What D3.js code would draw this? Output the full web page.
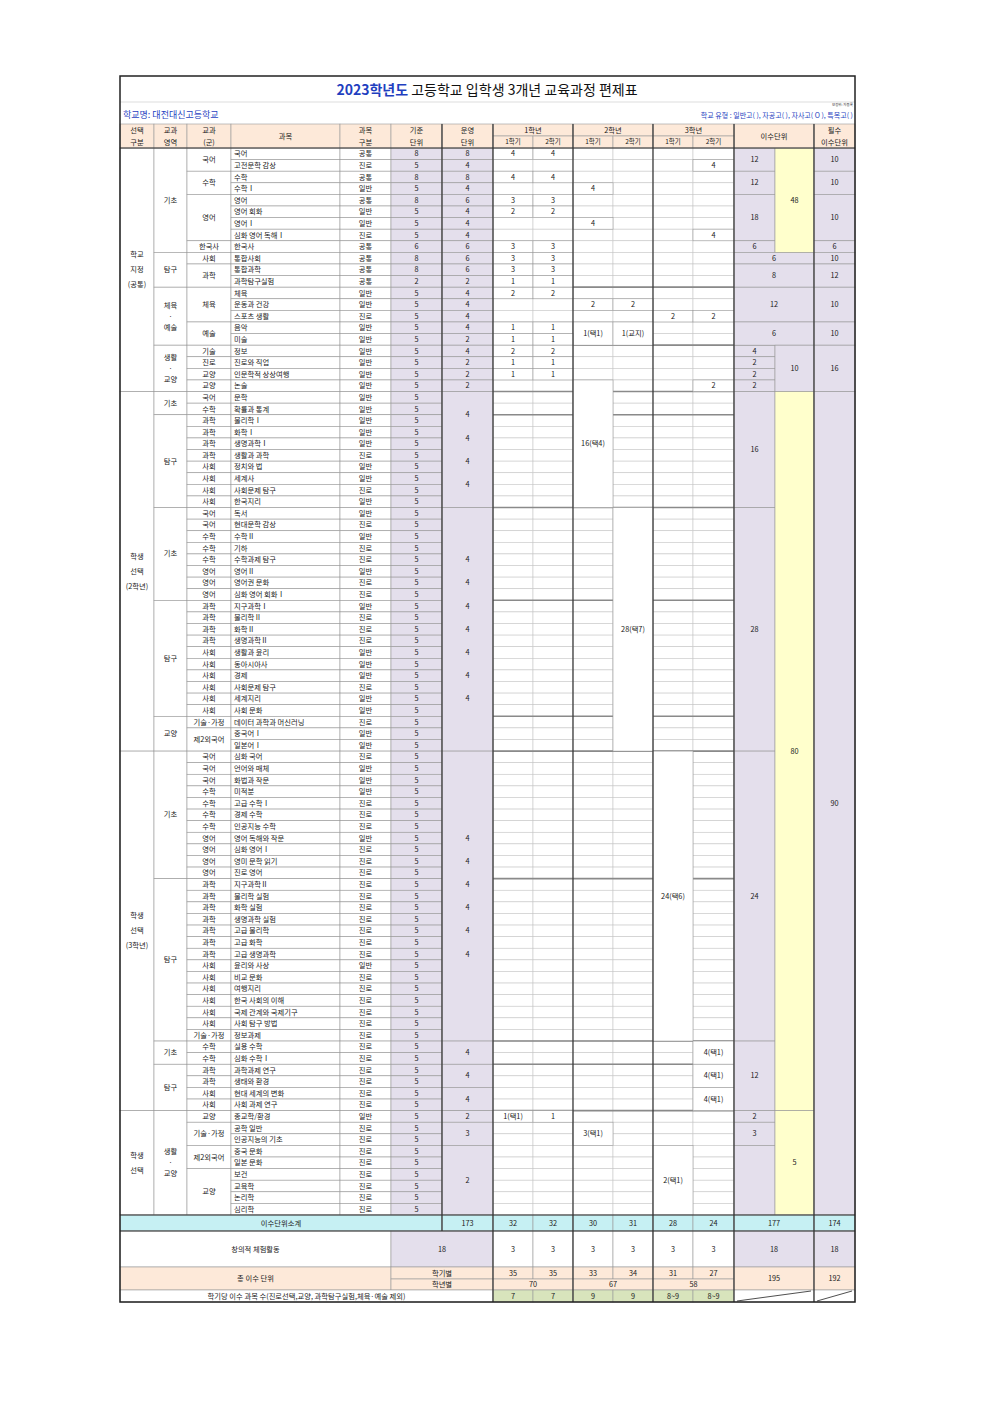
<!DOCTYPE html>
<html><head><meta charset="utf-8">
<script src="https://cdn.jsdelivr.net/npm/d3@7"></script>
<style>body{margin:0;background:#fff}svg text{font-family:"Noto Sans CJK KR","Noto Sans",sans-serif}</style>
</head><body>
<svg id="c" width="1000" height="1417"></svg>
<script>
const subjects=["국어","고전문학 감상","수학","수학Ⅰ","영어","영어 회화","영어Ⅰ","심화 영어 독해Ⅰ","한국사","통합사회","통합과학","과학탐구실험","체육","운동과 건강","스포츠 생활","음악","미술","정보","진로와 직업","인문학적 상상여행","논술",
"문학","확률과 통계","물리학Ⅰ","화학Ⅰ","생명과학Ⅰ","생활과 과학","정치와 법","세계사","사회문제 탐구","한국지리",
"독서","현대문학 감상","수학Ⅱ","기하","수학과제 탐구","영어Ⅱ","영어권 문화","심화 영어 회화Ⅰ","지구과학Ⅰ","물리학Ⅱ","화학Ⅱ","생명과학Ⅱ","생활과 윤리","동아시아사","경제","사회문제 탐구","세계지리","사회 문화","데이터 과학과 머신러닝","중국어Ⅰ","일본어Ⅰ",
"심화 국어","언어와 매체","화법과 작문","미적분","고급 수학Ⅰ","경제 수학","인공지능 수학","영어 독해와 작문","심화 영어Ⅰ","영미 문학 읽기","진로 영어",
"지구과학Ⅱ","물리학 실험","화학 실험","생명과학 실험","고급 물리학","고급 화학","고급 생명과학","윤리와 사상","비교 문화","여행지리","한국 사회의 이해","국제 관계와 국제기구","사회 탐구 방법","정보과제",
"실용 수학","심화 수학Ⅰ","과학과제 연구","생태와 환경","현대 세계의 변화","사회 과제 연구",
"종교학/환경","공학 일반","인공지능의 기초","중국 문화","일본 문화","보건","교육학","논리학","심리학"];
const subjectTypes=["공통","진로","공통","일반","공통","일반","일반","진로","공통","공통","공통","공통","일반","일반","진로","일반","일반","일반","일반","일반","일반",
"일반","일반","일반","일반","일반","진로","일반","일반","진로","일반",
"일반","진로","일반","진로","진로","일반","진로","진로","일반","진로","진로","진로","일반","일반","일반","진로","일반","일반","진로","일반","일반",
"진로","일반","일반","일반","진로","진로","진로","일반","진로","진로","진로",
"진로","진로","진로","진로","진로","진로","진로","일반","진로","진로","진로","진로","진로","진로",
"진로","진로","진로","진로","진로","진로",
"일반","진로","진로","진로","진로","진로","진로","진로","진로"];
const baseUnits=[8,5,8,5,8,5,5,5,6,8,8,2].concat(Array(80).fill(5));
const sectionCells=[[1,21,"학교|지정|(공통)"],[22,52,"학생|선택|(2학년)"],[53,83,"학생|선택|(3학년)"],[84,92,"학생|선택"]];
const areaCells=[[1,9,"기초"],[10,12,"탐구"],[13,17,"체육|·|예술"],[18,21,"생활|·|교양"],[22,23,"기초"],[24,31,"탐구"],[32,39,"기초"],[40,49,"탐구"],[50,52,"교양"],[53,63,"기초"],[64,77,"탐구"],[78,79,"기초"],[80,83,"탐구"],[84,92,"생활|·|교양"]];
const gunCells=[[1,2,"국어"],[3,4,"수학"],[5,8,"영어"],[9,9,"한국사"],[10,10,"사회"],[11,12,"과학"],[13,15,"체육"],[16,17,"예술"],
[18,18,"기술"],[19,19,"진로"],[20,20,"교양"],[21,21,"교양"],[22,22,"국어"],[23,23,"수학"],[24,24,"과학"],[25,25,"과학"],[26,26,"과학"],[27,27,"과학"],[28,28,"사회"],[29,29,"사회"],[30,30,"사회"],[31,31,"사회"],
[32,32,"국어"],[33,33,"국어"],[34,34,"수학"],[35,35,"수학"],[36,36,"수학"],[37,37,"영어"],[38,38,"영어"],[39,39,"영어"],[40,40,"과학"],[41,41,"과학"],[42,42,"과학"],[43,43,"과학"],[44,44,"사회"],[45,45,"사회"],[46,46,"사회"],[47,47,"사회"],[48,48,"사회"],[49,49,"사회"],[50,50,"기술·가정"],[51,52,"제2외국어"],
[53,53,"국어"],[54,54,"국어"],[55,55,"국어"],[56,56,"수학"],[57,57,"수학"],[58,58,"수학"],[59,59,"수학"],[60,60,"영어"],[61,61,"영어"],[62,62,"영어"],[63,63,"영어"],
[64,64,"과학"],[65,65,"과학"],[66,66,"과학"],[67,67,"과학"],[68,68,"과학"],[69,69,"과학"],[70,70,"과학"],[71,71,"사회"],[72,72,"사회"],[73,73,"사회"],[74,74,"사회"],[75,75,"사회"],[76,76,"사회"],[77,77,"기술·가정"],
[78,78,"수학"],[79,79,"수학"],[80,80,"과학"],[81,81,"과학"],[82,82,"사회"],[83,83,"사회"],[84,84,"교양"],[85,86,"기술·가정"],[87,88,"제2외국어"],[89,92,"교양"]];
const opUnits=[8,4,8,4,6,4,4,4,6,6,6,2,4,4,4,4,2,4,2,2,2];
const opBlocks=[[22,31,""],[32,52,""],[53,77,""],[78,79,"4"],[80,81,"4"],[82,83,"4"],[84,84,"2"],[85,86,"3"],[87,92,"2"]];
const opMarks=[[23,"4"],[25,"4"],[27,"4"],[29,"4"],[35.5,"4"],[37.5,"4"],[39.5,"4"],[41.5,"4"],[43.5,"4"],[45.5,"4"],[47.5,"4"],[59.5,"4"],[61.5,"4"],[63.5,"4"],[65.5,"4"],[67.5,"4"],[69.5,"4"]];
const semCells=[[0,1,1,"4"],[1,1,1,"4"],[5,2,2,"4"],[0,3,3,"4"],[1,3,3,"4"],[2,4,4,"4"],[0,5,5,"3"],[1,5,5,"3"],[0,6,6,"2"],[1,6,6,"2"],[2,7,7,"4"],[5,8,8,"4"],
[0,9,9,"3"],[1,9,9,"3"],[0,10,10,"3"],[1,10,10,"3"],[0,11,11,"3"],[1,11,11,"3"],[0,12,12,"1"],[1,12,12,"1"],[0,13,13,"2"],[1,13,13,"2"],[2,14,14,"2"],[3,14,14,"2"],[4,15,15,"2"],[5,15,15,"2"],
[0,16,16,"1"],[1,16,16,"1"],[2,16,17,"1(택1)"],[3,16,17,"1(교지)"],[0,17,17,"1"],[1,17,17,"1"],[0,18,18,"2"],[1,18,18,"2"],[0,19,19,"1"],[1,19,19,"1"],[0,20,20,"1"],[1,20,20,"1"],[5,21,21,"2"],
[2,21,31,"16(택4)"],[3,32,52,"28(택7)"],[4,53,77,"24(택6)"],[5,78,79,"4(택1)"],[5,80,81,"4(택1)"],[5,82,83,"4(택1)"],[0,84,84,"1(택1)"],[1,84,84,"1"],[2,85,86,"3(택1)"],[4,87,92,"2(택1)"]];
const creditA=[[1,2,"12"],[3,4,"12"],[5,8,"18"],[9,9,"6"],[18,18,"4"],[19,19,"2"],[20,20,"2"],[21,21,"2"],[22,31,"16"],[32,52,"28"],[53,77,"24"],[78,83,"12"],[84,84,"2"],[85,86,"3"],[87,92,""]];
const creditAB=[[10,10,"6"],[11,12,"8"],[13,15,"12"],[16,17,"6"]];
const creditB=[[1,9,"48","y"],[18,21,"10","l"],[22,83,"80","y"],[84,92,"5","y"]];
const requiredCells=[[1,2,"10"],[3,4,"10"],[5,8,"10"],[9,9,"6"],[10,10,"10"],[11,12,"12"],[13,15,"10"],[16,17,"10"],[18,21,"16"],[22,92,"90"]];
const subtotal=["173","32","32","30","31","28","24","177","174"];
const creative=["18","3","3","3","3","3","3","18","18"];
const perSem=["35","35","33","34","31","27"];
const perYear=["70","67","58"];
const totals=["195","192"];
const courseCount=["7","7","9","9","8~9","8~9"];

const svg=d3.select("#c");
const X=[120,154,187,231,340,391,442,493,533,573,613,653,693,734,775,814,855];
const y=d3.scaleLinear().domain([0,92]).range([148,1215]);
const LAV="#e4dfec",YEL="#ffffcc",PEACH="#fde9d9",CYAN="#c6f0f3",GREEN="#d8e4bc";
const g=svg.append("g");
function cell(c0,c1,y0,y1,text,fill,opt={}){
  g.append("rect").attr("x",X[c0]).attr("y",y0).attr("width",X[c1+1]-X[c0]).attr("height",y1-y0)
   .attr("fill",fill||"#fff").attr("stroke",opt.stroke||"#9a9a9a").attr("stroke-width",0.6);
  if(text!==undefined&&text!==""){
    const lines=String(text).split("|");const fs=opt.fs||7.3;const lh=opt.lh||fs*1.5;
    const cx=opt.left?X[c0]+3:(X[c0]+X[c1+1])/2;const cy=(y0+y1)/2;
    lines.forEach((t,i)=>g.append("text").attr("x",cx).attr("y",cy+(i-(lines.length-1)/2)*lh)
      .attr("dy","0.35em").attr("text-anchor",opt.left?"start":"middle").attr("font-size",fs).attr("fill","#222").text(t));
  }
}
function rc(c0,c1,r0,r1,text,fill,opt){cell(c0,c1,y(r0-1),y(r1),text,fill,opt);}
for(let r=1;r<=92;r++){for(let c=0;c<16;c++){rc(c,c,r,r,undefined,(c===5||c===6||c===13||c===15)?LAV:(c===14?YEL:"#fff"),{stroke:"#c8c8c8"});}}
// thick horizontal lines (drawn before merged cells so merged cells hide them)
const thick=[[12,1],[17,1],[21,0],[23,1],[31,1],[39,1],[49,1],[52,0],[63,1],[77,1],[79,1],[83,0]];
thick.forEach(d=>g.append("line").attr("x1",X[d[1]]).attr("x2",855).attr("y1",y(d[0])).attr("y2",y(d[0])).attr("stroke","#8a8a8a").attr("stroke-width",1.6));
sectionCells.forEach(d=>rc(0,0,d[0],d[1],d[2],"#fff",{lh:15}));
areaCells.forEach(d=>rc(1,1,d[0],d[1],d[2],"#fff",{lh:11}));
gunCells.forEach(d=>rc(2,2,d[0],d[1],d[2],"#fff"));
subjects.forEach((s,i)=>{rc(3,3,i+1,i+1,s,"#fff",{left:true});rc(4,4,i+1,i+1,subjectTypes[i],"#fff");rc(5,5,i+1,i+1,baseUnits[i],LAV);});
opUnits.forEach((v,i)=>rc(6,6,i+1,i+1,v,LAV));
opBlocks.forEach(d=>rc(6,6,d[0],d[1],d[2],LAV));
opMarks.forEach(d=>g.append("text").attr("x",(X[6]+X[7])/2).attr("y",y(d[0])).attr("dy","0.35em").attr("text-anchor","middle").attr("font-size",7.3).attr("fill","#222").text(d[1]));
semCells.forEach(d=>rc(7+d[0],7+d[0],d[1],d[2],d[3],"#fff"));
creditA.forEach(d=>rc(13,13,d[0],d[1],d[2],LAV));
creditAB.forEach(d=>rc(13,14,d[0],d[1],d[2],LAV));
creditB.forEach(d=>rc(14,14,d[0],d[1],d[2],d[3]==="y"?YEL:LAV));
requiredCells.forEach(d=>rc(15,15,d[0],d[1],d[2],LAV));
// redraw section-level thick lines across the rows only where cells end
[[21,0,13],[52,0,13],[83,0,13]].forEach(d=>{});
// header
const H0=124,H1=136,H2=148;
[[0,0,"선택|구분"],[1,1,"교과|영역"],[2,2,"교과|(군)"],[3,3,"과목"],[4,4,"과목|구분"],[5,5,"기준|단위"],[6,6,"운영|단위"],[13,14,"이수단위"],[15,15,"필수|이수단위"]]
 .forEach(d=>cell(d[0],d[1],H0,H2,d[2],PEACH,{lh:12}));
["1학년","2학년","3학년"].forEach((t,i)=>{cell(7+2*i,8+2*i,H0,H1,t,PEACH);cell(7+2*i,7+2*i,H1,H2,"1학기",PEACH,{fs:6.5});cell(8+2*i,8+2*i,H1,H2,"2학기",PEACH,{fs:6.5});});
// footer
const F0=1215,F1=1231,F2=1267,F3=1279,F4=1290,F5=1302;
cell(0,5,F0,F1,"이수단위소계",CYAN);
subtotal.forEach((v,i)=>{if(i===0)cell(6,6,F0,F1,v,CYAN);else if(i<7)cell(6+i,6+i,F0,F1,v,CYAN);else if(i===7)cell(13,14,F0,F1,v,CYAN);else cell(15,15,F0,F1,v,CYAN);});
cell(0,4,F1,F2,"창의적 체험활동","#fff");
creative.forEach((v,i)=>{if(i===0)cell(5,6,F1,F2,v,LAV);else if(i<7)cell(6+i,6+i,F1,F2,v,"#fff");else if(i===7)cell(13,14,F1,F2,v,LAV);else cell(15,15,F1,F2,v,LAV);});
cell(0,4,F2,F4,"총 이수 단위",PEACH);
cell(5,6,F2,F3,"학기별",PEACH);cell(5,6,F3,F4,"학년별",PEACH);
perSem.forEach((v,i)=>cell(7+i,7+i,F2,F3,v,PEACH));
perYear.forEach((v,i)=>cell(7+2*i,8+2*i,F3,F4,v,PEACH));
cell(13,14,F2,F4,totals[0],PEACH);cell(15,15,F2,F4,totals[1],PEACH);
cell(0,6,F4,F5,"학기당 이수 과목 수(진로선택,교양, 과학탐구실험,체육·예술 제외)","#fff");
courseCount.forEach((v,i)=>cell(7+i,7+i,F4,F5,v,GREEN));
cell(13,14,F4,F5,"","#fff");cell(15,15,F4,F5,"","#fff");
[[13,14],[15,15]].forEach(d=>{g.append("line").attr("x1",X[d[0]]+3).attr("y1",F5-1).attr("x2",X[d[1]+1]-3).attr("y2",F4+1).attr("stroke","#222").attr("stroke-width",0.8);});
// thick verticals
[[6,F1],[7,F5],[9,F5],[11,F5],[13,F5],[15,F5]].forEach(d=>g.append("line").attr("x1",X[d[0]]).attr("x2",X[d[0]]).attr("y1",H0).attr("y2",d[1]).attr("stroke","#333").attr("stroke-width",1.2));
[H2,F0,F1].forEach(v=>g.append("line").attr("x1",120).attr("x2",855).attr("y1",v).attr("y2",v).attr("stroke","#333").attr("stroke-width",1.2));
// title area
const T=svg.append("text").attr("x",487).attr("y",95).attr("text-anchor","middle").attr("font-size",14).attr("font-weight","bold");
T.append("tspan").attr("fill","#1f3fbf").text("2023학년도");
T.append("tspan").attr("fill","#111").attr("font-weight","normal").text(" 고등학교 입학생 3개년 교육과정 편제표");
svg.append("text").attr("x",853).attr("y",106).attr("text-anchor","end").attr("font-size",3.5).attr("fill","#333").text("보정위: 자동록");
svg.append("text").attr("x",123).attr("y",118).attr("font-size",9).attr("fill","#1f3fbf").text("학교명: 대전대신고등학교");
svg.append("text").attr("x",853).attr("y",118).attr("text-anchor","end").attr("font-size",7).attr("fill","#1f3fbf").text("학교 유형 : 일반고(   ), 자공고(   ), 자사고(  O  ), 특목고(   )");
svg.append("line").attr("x1",120).attr("x2",855).attr("y1",102).attr("y2",102).attr("stroke","#bbb").attr("stroke-width",0.5);
svg.append("rect").attr("x",120).attr("y",76).attr("width",735).attr("height",F5-76).attr("fill","none").attr("stroke","#222").attr("stroke-width",1.5);
</script></body></html>
